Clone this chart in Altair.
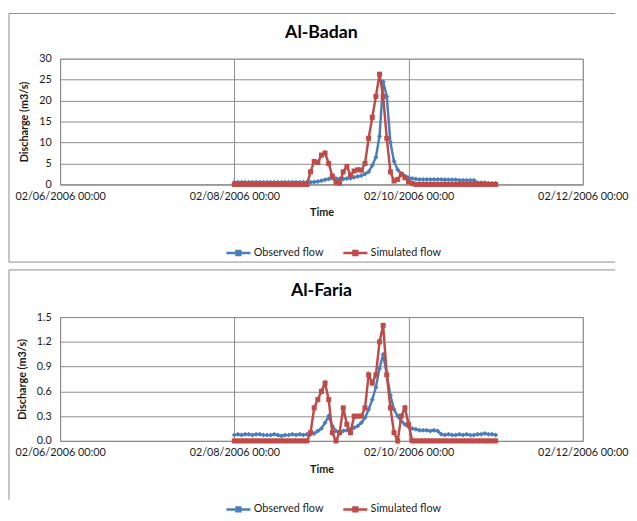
import altair as alt
import pandas as pd

# ---------------- data (hourly, from 02/08/2006 00:00) ----------------
hours = list(range(73))
series_names = ["Observed flow", "Simulated flow"]

badan_observed = (
    [0.5] * 20
    + [0.5, 0.5, 0.6, 0.7, 0.9, 1.1, 1.3, 1.5, 1.4, 1.3,
       1.3, 1.4, 1.5, 1.7, 1.9, 2.1, 2.5, 3.0, 4.5, 6.5,
       11.5, 24.5, 21.0, 10.0, 5.5, 3.5, 2.6, 2.0, 1.6, 1.4]
    + [1.3, 1.2, 1.2, 1.2, 1.2, 1.2, 1.2, 1.2, 1.1, 1.1, 1.1, 1.1, 1.0, 1.0, 1.0, 1.0, 1.0]
    + [0.4, 0.4, 0.4, 0.3, 0.3, 0.3]
)
badan_simulated = (
    [0.0] * 21
    + [3.0, 5.5, 5.2, 7.0, 7.5, 5.0, 2.0, 0.5, 0.3,
       3.0, 4.3, 2.2, 3.2, 3.5, 3.4, 5.0, 11.0, 16.0, 21.0,
       26.3, 21.0, 11.0, 3.0, 0.8, 1.2, 2.4, 1.6, 0.6, 0.2]
    + [0.0] * 23
)
faria_observed = (
    [0.07, 0.08, 0.07, 0.08, 0.08, 0.07, 0.08, 0.08, 0.07, 0.07,
     0.07, 0.08, 0.07, 0.06, 0.07, 0.07, 0.08, 0.07, 0.08, 0.07, 0.08]
    + [0.08, 0.09, 0.12, 0.15, 0.22, 0.30, 0.18, 0.12, 0.11, 0.12,
       0.13, 0.14, 0.16, 0.18, 0.22, 0.28, 0.38, 0.50, 0.65, 0.88,
       1.05, 0.80, 0.55, 0.38, 0.30, 0.24, 0.20, 0.17, 0.15]
    + [0.14, 0.13, 0.13, 0.13, 0.12, 0.13, 0.12]
    + [0.08, 0.07, 0.08, 0.07, 0.07, 0.08, 0.07, 0.08, 0.07, 0.07,
       0.08, 0.08, 0.09, 0.08, 0.08, 0.07]
)
faria_simulated = (
    [0.0] * 21
    + [0.1, 0.4, 0.5, 0.6, 0.7, 0.5, 0.1, 0.0, 0.1,
       0.4, 0.2, 0.1, 0.3, 0.3, 0.3, 0.4, 0.8, 0.7, 0.8,
       1.2, 1.4, 0.8, 0.4, 0.1, 0.0, 0.3, 0.4, 0.2, 0.0]
    + [0.0] * 23
)

badan_y_ticks = [0, 5, 10, 15, 20, 25, 30]
faria_y_ticks = [0.0, 0.3, 0.6, 0.9, 1.2, 1.5]
x_tick_days = [6, 8, 10, 12]

# ---------------- styling ----------------
BLUE = "#4A7EBB"
RED = "#BE4B48"
GRID = "#8C8C8C"
FRAME = "#8C8C8C"
FONT = "Lato"
TXT = "#1A1A1A"
LEGEND_PATH = "M-1,0L1,0M-0.16,-0.16L0.16,-0.16L0.16,0.16L-0.16,0.16Z"

start = pd.Timestamp("2006-02-08 00:00")
times = [(start + pd.Timedelta(hours=h)).strftime("%Y-%m-%dT%H:%M:%S") for h in hours]


def make_df(obs, sim):
    rows = []
    for t, v in zip(times, obs):
        rows.append({"time": t, "series": series_names[0], "value": v})
    for t, v in zip(times, sim):
        rows.append({"time": t, "series": series_names[1], "value": v})
    return pd.DataFrame(rows)


def dt(day):
    return alt.DateTime(year=2006, month=2, date=day, hours=0)


def panel(df, title, yvals, yfmt, ymax, w, h, top_off, bottom_rel):
    x = alt.X(
        "time:T",
        scale=alt.Scale(domain=[dt(6), dt(12)]),
        axis=alt.Axis(
            values=[dt(d) for d in x_tick_days],
            format="%m/%d/%Y %H:%M",
            title="Time",
            grid=True,
            gridColor=GRID,
            ticks=False,
            tickSize=0,
            domainColor=FRAME,
            labelFlush=False,
            labelOverlap=False,
            labelPadding=6,
            titlePadding=6,
        ),
    )
    y = alt.Y(
        "value:Q",
        scale=alt.Scale(domain=[0, ymax], nice=False, zero=True),
        axis=alt.Axis(
            values=yvals,
            format=yfmt,
            title="Discharge  (m3/s)",
            grid=True,
            gridColor=GRID,
            ticks=False,
            tickSize=0,
            domainColor=FRAME,
            labelPadding=9,
            titlePadding=9,
            titleFontSize=11,
        ),
    )
    color = alt.Color(
        "series:N",
        scale=alt.Scale(domain=series_names, range=[BLUE, RED]),
        legend=alt.Legend(
            title=None,
            orient="none",
            direction="horizontal",
            legendX=w / 2 - 98,
            legendY=h + 56,
            symbolType=LEGEND_PATH,
            symbolSize=600,
            symbolStrokeWidth=2.5,
            labelFontSize=11,
            labelFont=FONT,
            labelColor=TXT,
            columnPadding=14,
            labelOffset=2,
        ),
    )
    obs = (
        alt.Chart(df)
        .transform_filter(alt.datum.series == series_names[0])
        .mark_line(strokeWidth=2.5, point=alt.OverlayMarkDef(shape="diamond", size=26, filled=True))
        .encode(x=x, y=y, color=color)
    )
    sim = (
        alt.Chart(df)
        .transform_filter(alt.datum.series == series_names[1])
        .mark_line(strokeWidth=2.5, point=alt.OverlayMarkDef(shape="square", size=26, filled=True))
        .encode(x=x, y=y, color=color)
    )
    one = pd.DataFrame({"k": [0]})
    title_mark = alt.Chart(one).mark_text(
        text=title, font=FONT, fontSize=18, fontWeight="bold", color="#000000",
        align="center", baseline="middle",
    ).encode(x=alt.value(w / 2), y=alt.value(-26))
    top_rule = alt.Chart(one).mark_rule(color=FRAME, strokeWidth=1).encode(
        x=alt.value(-52), x2=alt.value(565), y=alt.value(top_off))
    left_rule = alt.Chart(one).mark_rule(color=FRAME, strokeWidth=1).encode(
        x=alt.value(-52), y=alt.value(top_off), y2=alt.value(bottom_rel))
    return alt.layer(top_rule, left_rule, title_mark, obs, sim).properties(width=w, height=h)


top_df = make_df(badan_observed, badan_simulated)
bot_df = make_df(faria_observed, faria_simulated)

one = pd.DataFrame({"k": [0]})
top = panel(top_df, "Al-Badan", badan_y_ticks, "d", 30, 532, 128, -46, 207)
top = alt.layer(
    top,
    alt.Chart(one).mark_rule(color=FRAME, strokeWidth=1).encode(
        x=alt.value(-52), x2=alt.value(565), y=alt.value(207)),
)
bottom = panel(bot_df, "Al-Faria", faria_y_ticks, ".1f", 1.5, 532, 126, -48, 186)

chart = (
    alt.vconcat(top, bottom, spacing=6)
    .resolve_legend(color="independent")
    .resolve_scale(color="independent")
    .properties(padding=0)
    .configure(font=FONT)
    .configure_view(stroke="#A6A6A6", strokeWidth=1)
    .configure_axis(
        labelFont=FONT,
        labelFontSize=11,
        labelColor=TXT,
        titleFont=FONT,
        titleFontSize=11,
        titleFontWeight="bold",
        titleColor=TXT,
    )
)

chart.save("out.html", embed_options={"renderer": "svg", "actions": False})
